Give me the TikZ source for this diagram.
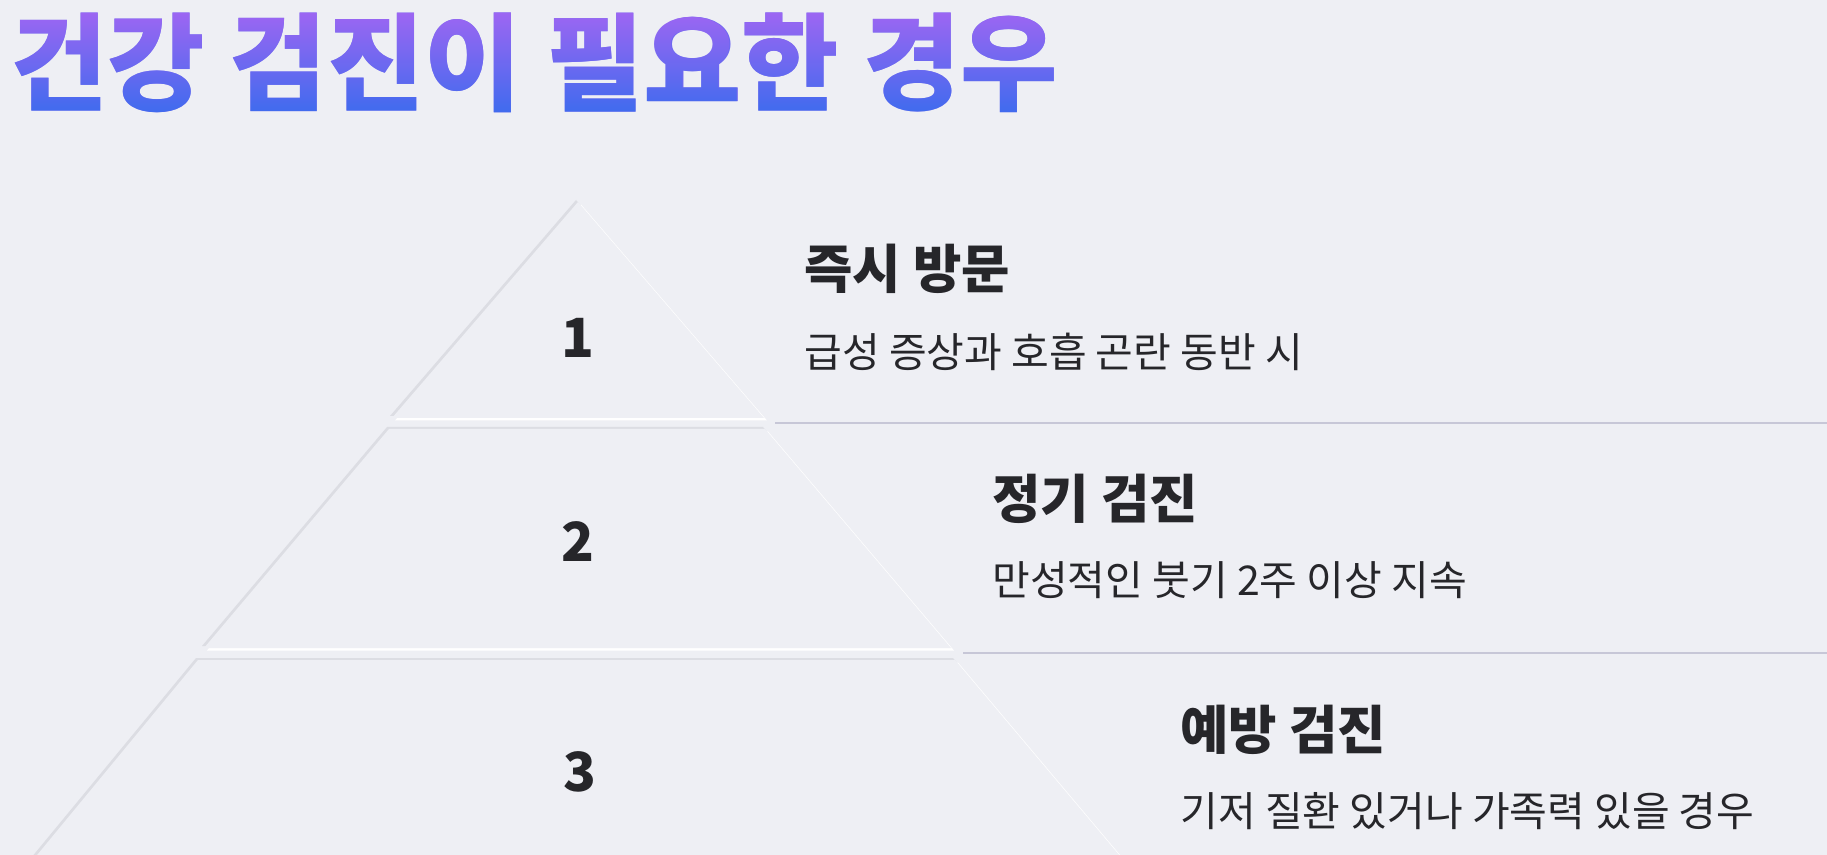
\documentclass[tikz,border=0pt]{standalone}
\usepackage{fontspec}
\usetikzlibrary{fadings}
\newfontfamily\krfont{Noto Sans CJK KR}

\definecolor{bgcol}{HTML}{EEEFF4}
\definecolor{shadowcol}{HTML}{DCDDE3}
\definecolor{textcol}{HTML}{26262A}
\definecolor{linecol}{HTML}{C7C7D7}
\definecolor{titletop}{HTML}{9D66F2}
\definecolor{titlebot}{HTML}{3F6BEE}
\definecolor{titlemid}{HTML}{6E68F0}

\newcommand{\titlefont}{\krfont\bfseries\fontsize{53}{62}\selectfont}

\begin{tikzfadingfrompicture}[name=titlefade]
  \node[text=transparent!0, inner sep=0pt, font=\titlefont] (fadetext) at (0,0) {건강 검진이 필요한 경우};
\end{tikzfadingfrompicture}

\begin{document}
\begin{tikzpicture}[x=0.5pt, y=-0.5pt,
    layer/.style={fill=bgcol},
    layershadow/.style={fill=shadowcol, xshift=-1pt, yshift=1pt},
    layerlight/.style={fill=white, xshift=1.5pt, yshift=-1.25pt},
    numlabel/.style={font=\krfont\bfseries\fontsize{27}{32}\selectfont, text=textcol, inner sep=0pt},
    headlabel/.style={font=\krfont\bfseries\fontsize{26.3}{31}\selectfont, text=textcol, inner sep=0pt, anchor=west},
    sublabel/.style={font=\krfont\fontsize{20.5}{25}\selectfont, text=textcol, inner sep=0pt, anchor=west},
    divline/.style={draw=linecol, line width=1pt}]
  \fill[bgcol] (0,0) rectangle (1827,855);
  \useasboundingbox (0,0) rectangle (1827,855);

  % title with vertical gradient
  \node[font=\titlefont, text=titlemid, inner sep=0pt, anchor=west] (title) at (10,62.5) {건강 검진이 필요한 경우};
  \shade[top color=titletop, bottom color=titlebot, path fading=titlefade, fit fading=false,
         fading transform={shift={(title.center)}}] (title.north west) rectangle (title.south east);

  % pyramid layers
  \begin{scope}
    \clip (0,0) rectangle (1827,855);
    \def\layers {578/202/578/202/764/418/392/418, 389/429/765/429/951/648/204/648, 198/660/955/660/1157/900/0/900}
    \foreach \ax/\ay/\bx/\by/\cx/\cy/\dx/\dy in \layers
    {	\fill[layershadow] (\ax,\ay) -- (\bx,\by) -- (\cx,\cy) -- (\dx,\dy) -- cycle;
      \fill[layerlight] (\ax,\ay) -- (\bx,\by) -- (\cx,\cy) -- (\dx,\dy) -- cycle;
      \fill[layer] (\ax,\ay) -- (\bx,\by) -- (\cx,\cy) -- (\dx,\dy) -- cycle;
    }
  \end{scope}

  \node[numlabel] (num1) at (578,338) {1};
  \node[numlabel] (num2) at (578,542) {2};
  \node[numlabel] (num3) at (580,772) {3};

  % divider lines
  \coordinate (div1a) at (775,423);
  \coordinate (div1b) at (1827,423);
  \coordinate (div2a) at (963,653);
  \coordinate (div2b) at (1827,653);
  \draw[divline] (div1a) -- (div1b);
  \draw[divline] (div2a) -- (div2b);

  % text blocks
  \node[headlabel] (head1) at (804,269)   {즉시 방문};
  \node[sublabel]  (sub1)  at (804,351.5) {급성 증상과 호흡 곤란 동반 시};
  \node[headlabel] (head2) at (992,498.5) {정기 검진};
  \node[sublabel]  (sub2)  at (992,580)   {만성적인 붓기 2주 이상 지속};
  \node[headlabel] (head3) at (1180,730)  {예방 검진};
  \node[sublabel]  (sub3)  at (1180,811)  {기저 질환 있거나 가족력 있을 경우};
\end{tikzpicture}
\end{document}
